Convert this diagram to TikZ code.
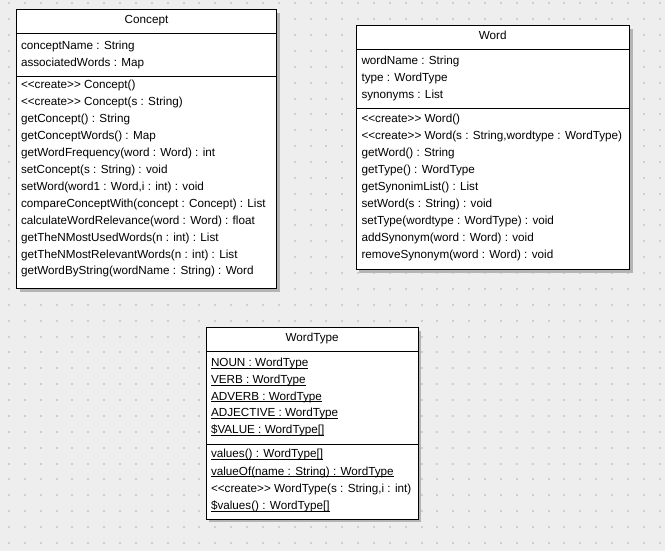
\documentclass[tikz,border=0pt]{standalone}
\usepackage{fontspec}
\setmainfont{Liberation Sans}[Ligatures=TeXOff]
\definecolor{bgc}{HTML}{EEEEEE}
\definecolor{dotc}{HTML}{CFCFCF}
\definecolor{shadowc}{HTML}{B4B4B4}
\tikzset{
  umltext/.style={anchor=base west, inner sep=0pt, outer sep=0pt, font=\fontsize{11.7}{14}\selectfont},
  umlhead/.style={anchor=base, inner sep=0pt, outer sep=0pt, font=\fontsize{11.7}{14}\selectfont},
  umlbox/.style={draw=black, line width=1pt, fill=white},
  umlshadow/.style={fill=shadowc, draw=none},
  umlsep/.style={draw=black, line width=1pt},
  ulline/.style={draw=black, line width=0.7pt}
}
\begin{document}
\begin{tikzpicture}[x=1pt,y=-1pt]
\useasboundingbox (0,0) rectangle (665,551);
\fill[bgc] (0,0) rectangle (665,551);
\foreach \i in {0,...,41}{
  \foreach \j in {0,...,34}{
    \fill[dotc] ({8+15.87*\i},{2.3+15.87*\j}) rectangle ++(2,2);
  }
}
% ---------- Concept ----------
\fill[umlshadow] (19.5,13) rectangle (279.5,291.5);
\draw[umlbox] (16.5,10) rectangle (276.5,288.5);
\draw[umlsep] (16.5,34) -- (276.5,34);
\draw[umlsep] (16.5,76.5) -- (276.5,76.5);
\node[umlhead] (cname) at (146.5,23.5) {Concept};
\node[umltext] (c1) at (21,49.3) {conceptName : String};
\node[umltext] (c2) at (21,66.2) {associatedWords : Map};
\foreach \t [count=\k from 0] in {
  {<<create>> Concept()},
  {<<create>> Concept(s : String)},
  {getConcept() : String},
  {getConceptWords() : Map},
  {getWordFrequency(word : Word) : int},
  {setConcept(s : String) : void},
  {setWord(word1 : Word,i : int) : void},
  {compareConceptWith(concept : Concept) : List},
  {calculateWordRelevance(word : Word) : float},
  {getTheNMostUsedWords(n : int) : List},
  {getTheNMostRelevantWords(n : int) : List},
  {getWordByString(wordName : String) : Word}}{
  \node[umltext] (cop\k) at (21,{89+16.9*\k}) {\t};
}
% ---------- Word ----------
\fill[umlshadow] (359,29) rectangle (632.5,272.5);
\draw[umlbox] (356,26) rectangle (629.5,269.5);
\draw[umlsep] (356,50) -- (629.5,50);
\draw[umlsep] (356,108.3) -- (629.5,108.3);
\node[umlhead] (wname) at (492.7,39.3) {Word};
\node[umltext] (w1) at (361.5,65) {wordName : String};
\node[umltext] (w2) at (361.5,81.8) {type : WordType};
\node[umltext] (w3) at (361.5,98.5) {synonyms : List};
\foreach \t [count=\k from 0] in {
  {<<create>> Word()},
  {<<create>> Word(s : String,wordtype : WordType)},
  {getWord() : String},
  {getType() : WordType},
  {getSynonimList() : List},
  {setWord(s : String) : void},
  {setType(wordtype : WordType) : void},
  {addSynonym(word : Word) : void},
  {removeSynonym(word : Word) : void}}{
  \node[umltext] (wop\k) at (361.5,{122.3+17*\k}) {\t};
}
% ---------- WordType ----------
\fill[umlshadow] (209,330.5) rectangle (421.3,522);
\draw[umlbox] (206,327.5) rectangle (418.3,519);
\draw[umlsep] (206,351.7) -- (418.3,351.7);
\draw[umlsep] (206,444.3) -- (418.3,444.3);
\node[umlhead] (tname) at (312.2,341.7) {WordType};
\foreach \t [count=\k from 0] in {
  {NOUN : WordType},
  {VERB : WordType},
  {ADVERB : WordType},
  {ADJECTIVE : WordType},
  {\$VALUE : WordType[]}}{
  \node[umltext] (ta\k) at (211,{366.7+16.7*\k}) {\t};
  \draw[ulline] ([yshift=-1.6pt]ta\k.base west) -- ([yshift=-1.6pt]ta\k.base east);
}
\node[umltext] (to0) at (211,457.7) {values() : WordType[]};
\node[umltext] (to1) at (211,475) {valueOf(name : String) : WordType};
\node[umltext] (to2) at (211,492.3) {<<create>> WordType(s : String,i : int)};
\node[umltext] (to3) at (211,509.6) {\$values() : WordType[]};
\foreach \n in {to0,to1,to3}{
  \draw[ulline] ([yshift=-1.6pt]\n.base west) -- ([yshift=-1.6pt]\n.base east);
}
\end{tikzpicture}
\end{document}
